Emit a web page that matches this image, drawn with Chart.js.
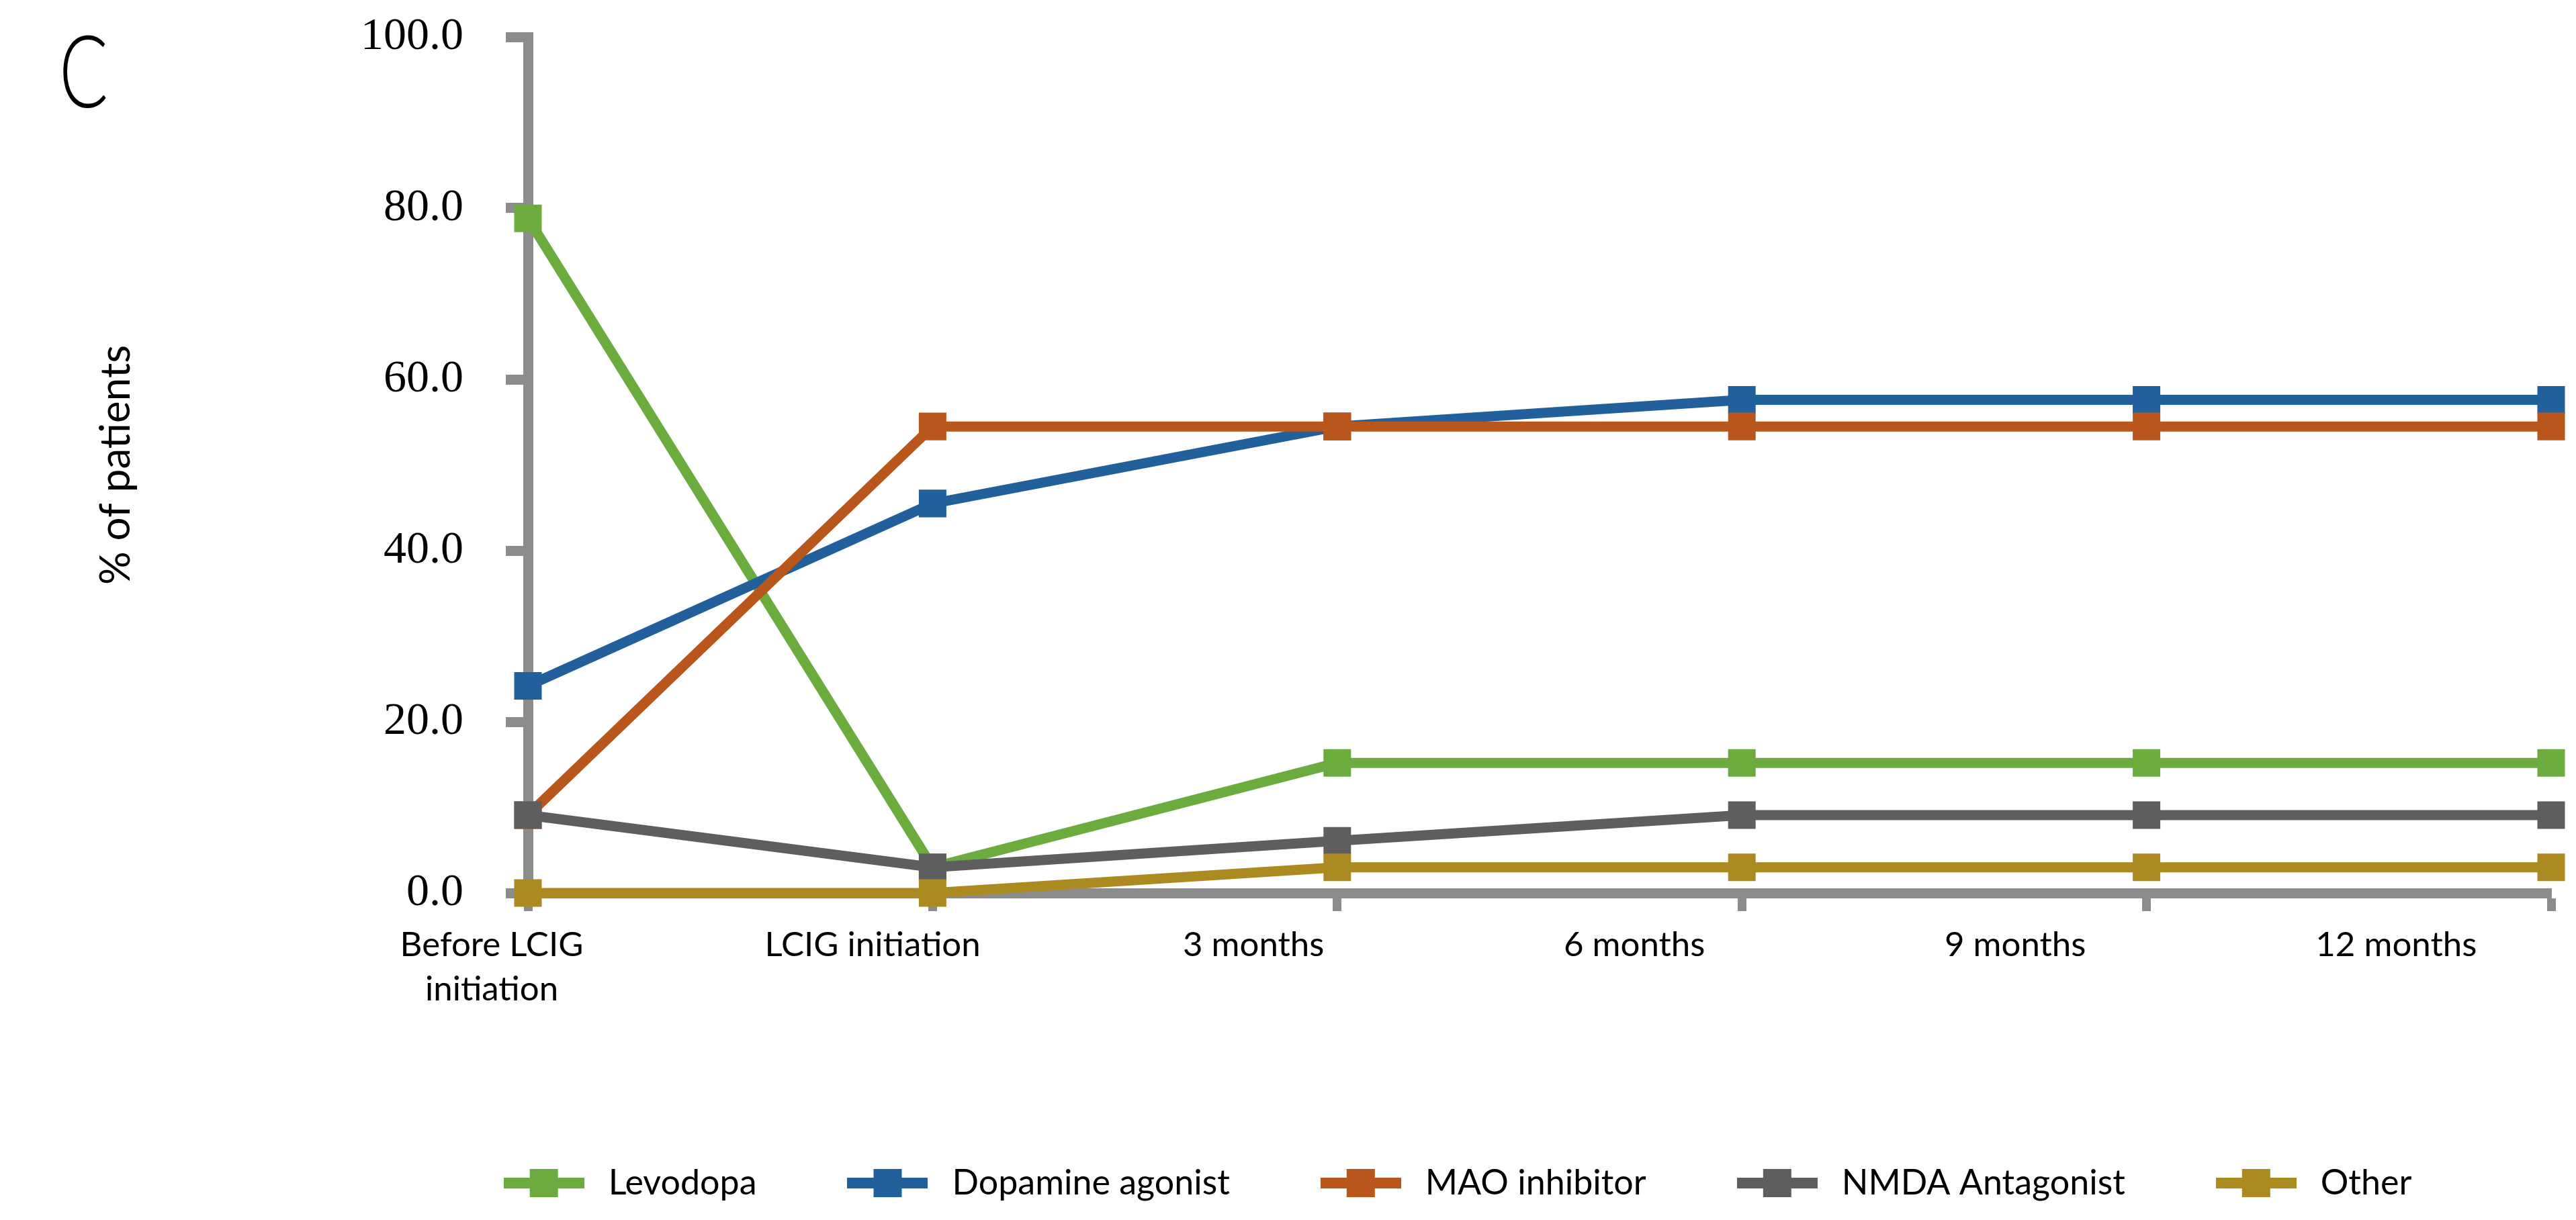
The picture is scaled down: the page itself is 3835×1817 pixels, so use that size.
<!DOCTYPE html>
<html>
<head>
<meta charset="utf-8">
<script src="https://cdn.jsdelivr.net/npm/chart.js@4/dist/chart.umd.min.js"></script>
<style>
  html, body { margin: 0; padding: 0; background: #ffffff; }
  #wrap { position: relative; width: 3835px; height: 1817px; background: #ffffff; }
</style>
</head>
<body>
<div id="wrap"><canvas id="chart"></canvas></div>
<script>
// ---------------- data ----------------
const categories = [['Before LCIG', 'initiation'], 'LCIG initiation', '3 months', '6 months', '9 months', '12 months'];
const seriesNames = ['Levodopa', 'Dopamine agonist', 'MAO inhibitor', 'NMDA Antagonist', 'Other'];
const levodopa        = [78.8,  3.0, 15.2, 15.2, 15.2, 15.2];
const dopamineAgonist = [24.2, 45.5, 54.5, 57.6, 57.6, 57.6];
const maoInhibitor    = [ 9.1, 54.5, 54.5, 54.5, 54.5, 54.5];
const nmdaAntagonist  = [ 9.1,  3.0,  6.1,  9.1,  9.1,  9.1];
const other           = [ 0.0,  0.0,  3.0,  3.0,  3.0,  3.0];
const yTicks = [0, 20, 40, 60, 80, 100];

// ---------------- styles ----------------
const colors = ['#6cab3e', '#22609b', '#b9561b', '#5e5e5e', '#ac8a22'];
const axisGray = '#8c8c8c';
const seriesValues = [levodopa, dopamineAgonist, maoInhibitor, nmdaAntagonist, other];

function legendIcon(color) {
  const c = document.createElement('canvas');
  c.width = 120; c.height = 42;
  const g = c.getContext('2d');
  g.fillStyle = color;
  g.fillRect(0, 13, 120, 16);
  g.fillRect(39, 0, 42, 42);
  return c;
}

const datasets = seriesNames.map((name, i) => ({
  label: name,
  data: seriesValues[i],
  borderColor: colors[i],
  backgroundColor: colors[i],
  borderWidth: 15,
  pointStyle: 'rect',
  pointRadius: 29,
  pointHoverRadius: 29,
  pointBorderWidth: 0,
  pointBackgroundColor: colors[i],
  tension: 0,
  fill: false,
  clip: false,
  order: seriesNames.length - i
}));

const panelLetter = {
  id: 'panelLetter',
  afterDraw(chart) {
    const ctx = chart.ctx;
    ctx.save();
    ctx.fillStyle = '#000';
    ctx.font = '300 150px Lato';
    ctx.textBaseline = 'alphabetic';
    ctx.textAlign = 'left';
    ctx.translate(88, 160);
    ctx.scale(0.72, 1);
    ctx.fillText('C', 0, 0);
    ctx.restore();
  }
};

new Chart(document.getElementById('chart'), {
  type: 'line',
  data: { labels: categories, datasets },
  plugins: [panelLetter],
  options: {
    responsive: true,
    maintainAspectRatio: false,
    animation: false,
    devicePixelRatio: 1,
    layout: { padding: { top: 55, left: 532, right: 37, bottom: 19 } },
    plugins: {
      tooltip: { enabled: false },
      legend: {
        position: 'bottom',
        labels: {
          usePointStyle: true,
          pointStyleWidth: 140,
          padding: 125,
          color: '#000',
          font: { family: 'Lato', size: 52 },
          sort: (a, b) => a.datasetIndex - b.datasetIndex,
          generateLabels(chart) {
            const items = Chart.defaults.plugins.legend.labels.generateLabels(chart);
            items.forEach(it => { it.pointStyle = legendIcon(colors[it.datasetIndex]); });
            return items;
          }
        }
      }
    },
    scales: {
      x: {
        type: 'category',
        offset: false,
        weight: 0,
        ticks: { display: false },
        grid: { display: true, drawOnChartArea: false, drawTicks: true, tickLength: 27, tickWidth: 13, tickColor: axisGray },
        border: { display: true, color: axisGray, width: 15 }
      },
      xLabels: {
        type: 'linear',
        position: 'bottom',
        weight: 1,
        min: 0.0952,
        max: 5.407,
        afterBuildTicks(scale) { scale.ticks = categories.map((c, i) => ({ value: i })); },
        afterFit(scale) { scale.height = 254; },
        ticks: {
          autoSkip: false,
          maxRotation: 0,
          minRotation: 0,
          padding: 17,
          color: '#000',
          font: { family: 'Lato', size: 51, lineHeight: 1.3 },
          callback: (v) => categories[v]
        },
        grid: { display: false, drawTicks: false },
        border: { display: false }
      },
      y: {
        min: 0,
        max: 100,
        afterBuildTicks(scale) { scale.ticks = yTicks.map(v => ({ value: v })); },
        afterFit(scale) { scale.width = 254; scale.paddingTop = 0; scale.paddingBottom = 0; },
        ticks: {
          padding: 63,
          color: '#000',
          font: { family: 'Liberation Serif', size: 68 },
          callback: (v) => Number(v).toFixed(1)
        },
        grid: { display: true, drawOnChartArea: false, drawTicks: true, tickLength: 33, tickWidth: 15, tickColor: axisGray },
        border: { display: true, color: axisGray, width: 15 },
        title: {
          display: true,
          text: '% of patients',
          color: '#000',
          font: { family: 'Lato', size: 62 },
          padding: { top: -396, bottom: 0 }
        }
      }
    }
  }
});
</script>
</body>
</html>
